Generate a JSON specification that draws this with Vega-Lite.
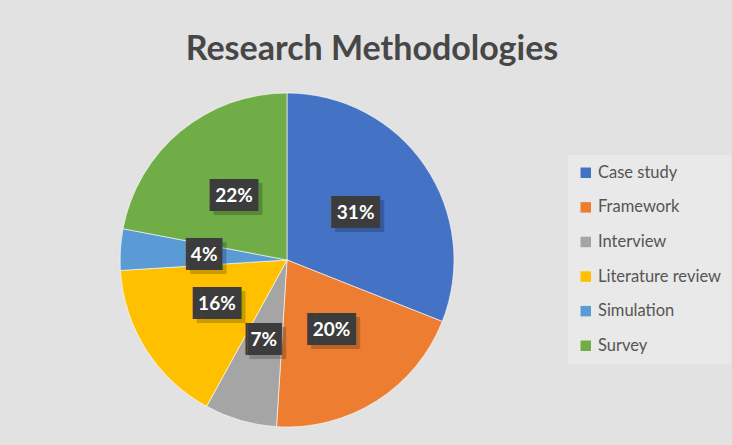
{
  "$schema": "https://vega.github.io/schema/vega-lite/v6.json",
  "width": 574,
  "height": 334,
  "autosize": {"type": "none"},
  "padding": {"left": 0, "top": 93, "right": 158, "bottom": 18},
  "background": "#e2e2e2",
  "title": {
    "text": "Research Methodologies",
    "fontSize": 34,
    "font": "Lato",
    "fontWeight": "bold",
    "color": "#474747",
    "anchor": "middle",
    "frame": "group",
    "dx": 85,
    "offset": 25
  },
  "config": {
    "view": {"stroke": null},
    "legend": {
      "orient": "none",
      "legendX": 568,
      "legendY": 62,
      "fillColor": "#e9e9e9",
      "padding": 9.5,
      "symbolType": "square",
      "symbolSize": 110,
      "symbolStrokeWidth": 0,
      "labelFontSize": 16.5,
      "labelFont": "Lato",
      "labelColor": "#555555",
      "labelOffset": 4,
      "rowPadding": 17.6,
      "titlePadding": 0
    }
  },
  "data": {
    "values": [
      {"method": "Case study", "pct": 31},
      {"method": "Framework", "pct": 20},
      {"method": "Interview", "pct": 7},
      {"method": "Literature review", "pct": 16},
      {"method": "Simulation", "pct": 4},
      {"method": "Survey", "pct": 22}
    ]
  },
  "transform": [
    {"calculate": "datum.pct + '%'", "as": "label"},
    {"calculate": "length(datum.label) > 2 ? '▐██▌' : '▕██▏'", "as": "box"}
  ],
  "encoding": {
    "theta": {"field": "pct", "type": "quantitative", "stack": true},
    "order": {"field": "method", "type": "nominal"}
  },
  "layer": [
    {
      "mark": {"type": "arc", "outerRadius": 167, "stroke": "#ffffff", "strokeWidth": 0.6},
      "encoding": {
        "color": {
          "field": "method",
          "type": "nominal",
          "scale": {
            "domain": ["Case study", "Framework", "Interview", "Literature review", "Simulation", "Survey"],
            "range": ["#4472C4", "#ED7D31", "#A5A5A5", "#FFC000", "#5B9BD5", "#70AD47"]
          },
          "legend": {"title": null}
        }
      }
    },
    {
      "mark": {"type": "text", "radius": 83, "font": "DejaVu Sans Mono", "fontSize": 27, "color": "#000000", "opacity": 0.2, "dx": 4, "dy": 4, "baseline": "middle", "align": "center"},
      "encoding": {"text": {"field": "box"}, "detail": {"field": "method"}}
    },
    {
      "mark": {"type": "text", "radius": 83, "font": "DejaVu Sans Mono", "fontSize": 27, "color": "#3c3c3c", "baseline": "middle", "align": "center"},
      "encoding": {"text": {"field": "box"}, "detail": {"field": "method"}}
    },
    {
      "mark": {"type": "text", "radius": 83, "font": "Lato", "fontWeight": "bold", "fontSize": 19, "color": "#ffffff", "baseline": "middle", "align": "center"},
      "encoding": {"text": {"field": "label"}, "detail": {"field": "method"}}
    }
  ]
}
